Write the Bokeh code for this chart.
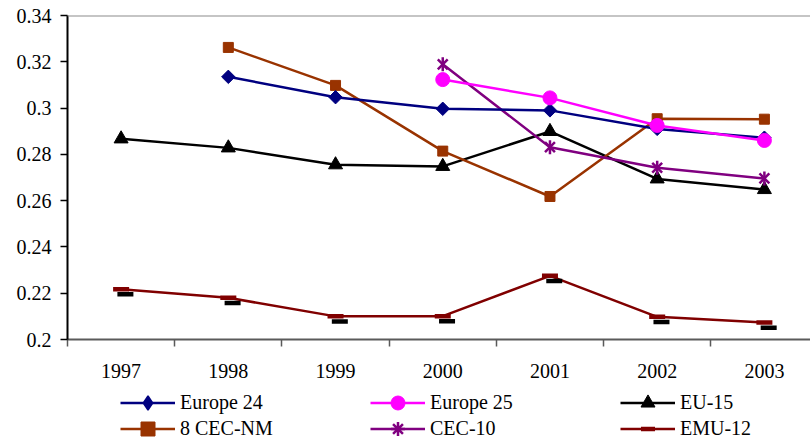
from bokeh.plotting import figure
from bokeh.layouts import column
from bokeh.models import (Range1d, LinearAxis, FixedTicker, Legend, LegendItem,
                          Span, ColumnDataSource)
from bokeh.transform import dodge
from bokeh.embed import file_html
from bokeh.resources import INLINE

nan = float("nan")

# Inequality index by region, 1997-2003
years = ["1997", "1998", "1999", "2000", "2001", "2002", "2003"]
europe_24 = [nan, 0.3135, 0.3047, 0.2997, 0.2990, 0.2910, 0.2872]
europe_25 = [nan, nan, nan, 0.3123, 0.3044, 0.2925, 0.2860]
eu_15 = [0.2867, 0.2828, 0.2755, 0.2748, 0.2899, 0.2694, 0.2648]
cec_nm_8 = [nan, 0.3262, 0.3098, 0.2814, 0.2618, 0.2954, 0.2952]
cec_10 = [nan, nan, nan, 0.3189, 0.2831, 0.2742, 0.2696]
emu_12 = [0.2217, 0.2180, 0.2100, 0.2101, 0.2275, 0.2098, 0.2073]

y_ticks = [0.2, 0.22, 0.24, 0.26, 0.28, 0.3, 0.32, 0.34]
y_tick_labels = ["0.2", "0.22", "0.24", "0.26", "0.28", "0.3", "0.32", "0.34"]

FONT = "Liberation Serif"

# series styles: name -> (colour, marker, marker size)
STYLES = {
    "Europe 24": ("#000080", "square", 9.5),
    "Europe 25": ("#ff00ff", "circle", 14),
    "EU-15": ("black", "triangle", 14),
    "8 CEC-NM": ("#993300", "square", 10),
    "CEC-10": ("#800080", "x", 14),
    "EMU-12": ("#800000", "dash", 16),
}

# each year sits in the middle of its slot on a numeric axis
xs = [i + 0.5 for i in range(len(years))]
src = ColumnDataSource(dict(x=xs, e24=europe_24, e25=europe_25, eu15=eu_15,
                            cec8=cec_nm_8, cec10=cec_10, emu12=emu_12))

p = figure(frame_width=743, frame_height=324,
           min_border_left=67, min_border_right=0, min_border_top=15,
           min_border_bottom=50,
           x_range=Range1d(0, 6.93), y_range=Range1d(y_ticks[0], y_ticks[-1]),
           x_axis_location=None, y_axis_location=None,
           output_backend="svg", toolbar_location=None)
p.grid.visible = False
p.outline_line_color = None
p.background_fill_color = "white"
p.border_fill_color = "white"

# y axis
yax = LinearAxis(ticker=FixedTicker(ticks=y_ticks, minor_ticks=[]),
                 major_label_overrides={t: s for t, s in zip(y_ticks, y_tick_labels)})
yax.axis_line_color = "black"
yax.axis_line_width = 2
yax.major_tick_line_color = "black"
yax.major_tick_line_width = 1.5
yax.major_tick_out = 7
yax.major_tick_in = 0
yax.major_label_standoff = 9
yax.major_label_text_font = FONT
yax.major_label_text_font_size = "20px"
yax.major_label_text_color = "black"
p.add_layout(yax, "left")

# x axis: labels at slot centres, tick marks on slot boundaries
xax = LinearAxis(ticker=FixedTicker(ticks=xs, minor_ticks=list(range(len(years) + 1))),
                 major_label_overrides={x: y for x, y in zip(xs, years)})
xax.axis_line_color = "#5a5a5a"
xax.axis_line_width = 2
xax.major_tick_line_color = None
xax.minor_tick_line_color = "#5a5a5a"
xax.minor_tick_line_width = 1.5
xax.minor_tick_out = 7
xax.minor_tick_in = 0
xax.major_label_standoff = 17
xax.major_label_text_font = FONT
xax.major_label_text_font_size = "20px"
xax.major_label_text_color = "black"
p.add_layout(xax, "below")

p.add_layout(Span(location=y_ticks[-1], dimension="width",
                  line_color="#8c8c8c", line_width=2))

LW = 2.5

# EU-15
c, m, s = STYLES["EU-15"]
p.line("x", "eu15", source=src, line_color=c, line_width=LW)
p.scatter("x", "eu15", source=src, marker=m, size=s, fill_color=c, line_color=c)

# EMU-12 (dash markers with a dark shadow)
c, m, s = STYLES["EMU-12"]
p.line("x", "emu12", source=src, line_color=c, line_width=LW)
p.scatter(dodge("x", 0.04), dodge("emu12", -0.0022), source=src, marker=m,
          size=s, line_color="black", line_width=4.5)
p.scatter("x", "emu12", source=src, marker=m, size=s, line_color=c, line_width=4.5)

# 8 CEC-NM
c, m, s = STYLES["8 CEC-NM"]
p.line("x", "cec8", source=src, line_color=c, line_width=LW)
p.scatter("x", "cec8", source=src, marker=m, size=s, fill_color=c, line_color=c)

# CEC-10 (x with a vertical bar)
c, m, s = STYLES["CEC-10"]
p.line("x", "cec10", source=src, line_color=c, line_width=LW)
p.scatter("x", "cec10", source=src, marker=m, size=s, line_color=c, line_width=2.5)
p.scatter("x", "cec10", source=src, marker="dash", angle=1.5708, size=s,
          line_color=c, line_width=2.5)

# Europe 24 (square turned onto its corner)
c, m, s = STYLES["Europe 24"]
p.line("x", "e24", source=src, line_color=c, line_width=LW)
p.scatter("x", "e24", source=src, marker=m, angle=0.7854, size=s,
          fill_color=c, line_color=c)

# Europe 25
c, m, s = STYLES["Europe 25"]
p.line("x", "e25", source=src, line_color=c, line_width=LW)
p.scatter("x", "e25", source=src, marker=m, size=s, fill_color=c, line_color=c)

# legend strip under the chart; its swatch renderers hold no visible points
leg = figure(width=810, height=55, min_border=0,
             x_range=Range1d(0, 810), y_range=Range1d(0, 55),
             x_axis_location=None, y_axis_location=None,
             output_backend="svg", toolbar_location=None)
leg.grid.visible = False
leg.outline_line_color = None
leg.background_fill_color = "white"
leg.border_fill_color = "white"


def swatch(name):
    c, m, s = STYLES[name]
    rs = [leg.line([nan], [nan], line_color=c, line_width=LW)]
    if m == "dash":
        rs.append(leg.scatter([nan], [nan], marker="dash", line_color=c, line_width=4.5))
    elif m == "x":
        rs.append(leg.scatter([nan], [nan], marker="asterisk", line_color=c,
                              line_width=2.5))
    elif name == "Europe 24":
        rs.append(leg.scatter([nan], [nan], marker="diamond",
                              fill_color=c, line_color=c, line_width=1.5))
    else:
        rs.append(leg.scatter([nan], [nan], marker=m, fill_color=c, line_color=c))
    return LegendItem(label=name, renderers=rs)


rows = [["Europe 24", "Europe 25", "EU-15"], ["8 CEC-NM", "CEC-10", "EMU-12"]]
for names, vy in zip(rows, [24.5, -1.5]):
    legend = Legend(items=[swatch(n) for n in names], orientation="horizontal",
                    location=(53, vy),
                    glyph_width=55, glyph_height=35, label_height=23, label_width=190,
                    spacing=0, padding=0, margin=0, label_standoff=5,
                    border_line_color=None, background_fill_alpha=0,
                    label_text_font=FONT, label_text_font_size="20px",
                    label_text_color="black")
    leg.add_layout(legend, "center")

open("out.html", "w").write(file_html(column(p, leg, spacing=0), INLINE))
